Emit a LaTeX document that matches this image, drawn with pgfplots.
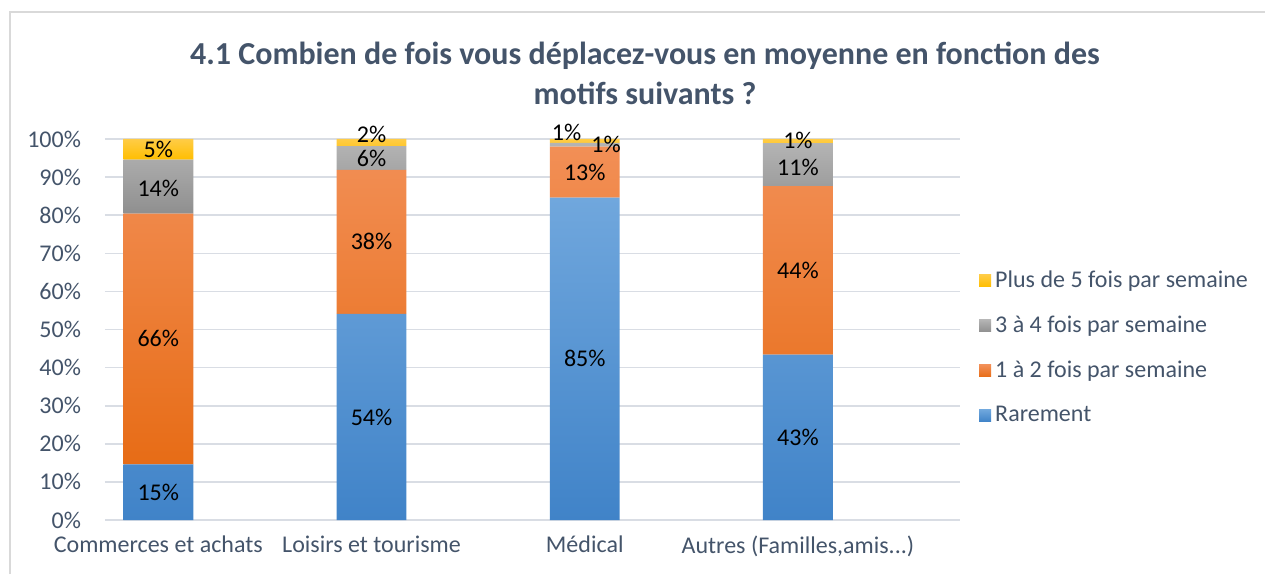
\documentclass[border=0pt]{standalone}
\usepackage{fontspec}
\setmainfont{Carlito}
\usepackage{pgfplots}
\pgfplotsset{compat=1.18}
\definecolor{txt}{RGB}{68,84,106}
\definecolor{gridc}{RGB}{217,221,228}
\definecolor{framec}{RGB}{217,217,217}
\definecolor{blueT}{RGB}{112,167,221}
\definecolor{blueB}{RGB}{64,131,200}
\definecolor{oranT}{RGB}{242,143,86}
\definecolor{oranB}{RGB}{231,108,22}
\definecolor{grayT}{RGB}{180,180,180}
\definecolor{grayB}{RGB}{143,143,143}
\definecolor{yelT}{RGB}{255,204,70}
\definecolor{yelB}{RGB}{255,190,0}
\newcommand{\autres}{Autres (Familles,amis...)}

\pgfplotsset{
  common/.style={
    scale only axis, width=427.5pt, height=190.5pt,
    at={(52.5pt,27pt)}, anchor=south west,
    xmin=-0.25, xmax=3.76, ymin=0, ymax=100,
  }
}

\begin{document}
\begin{tikzpicture}[x=0.5pt,y=0.5pt]
\useasboundingbox (0,0) rectangle (1265,574);
\draw[framec, line width=1pt] (10,0) -- (10,562) -- (1265,562);
\node[font=\fontsize{16}{19}\selectfont\bfseries, text=txt, anchor=base] at (645,509) {4.1 Combien de fois vous déplacez-vous en moyenne en fonction des};
\node[font=\fontsize{16}{19}\selectfont\bfseries, text=txt, anchor=base] at (645,469) {motifs suivants ?};

\begin{axis}[common,
  ybar stacked, bar width=0.328,
  axis line style={draw=none}, major tick length=0pt,
  ymajorgrids, grid style={gridc, line width=0.8pt},
  ytick={0,10,20,30,40,50,60,70,80,90,100},
  yticklabels={0\%,10\%,20\%,30\%,40\%,50\%,60\%,70\%,80\%,90\%,100\%},
  xtick={0,1,2,3},
  xticklabels={Commerces et achats,Loisirs et tourisme,Médical,\autres},
  ticklabel style={font=\fontsize{12}{14}\selectfont, text=txt},
  yticklabel style={xshift=-8.5pt},
  xticklabel style={yshift=-4.5pt},
  legend style={draw=none, fill=none, at={(1.015,0.452)}, anchor=west,
    font=\fontsize{12}{14}\selectfont, text=txt, row sep=8.8pt},
  legend cell align=left,
  reverse legend,
  legend image code/.code={\fill[#1] (0pt,-3pt) rectangle (6pt,3pt);},
]
\addplot[draw=none, top color=blueT, bottom color=blueB] coordinates {(0,14.6) (1,54.1) (2,84.6) (3,43.4)};
\addlegendentry{Rarement}
\addplot[draw=none, top color=oranT, bottom color=oranB] coordinates {(0,65.8) (1,37.8) (2,13.4) (3,44.2)};
\addlegendentry{1 à 2 fois par semaine}
\addplot[draw=none, top color=grayT, bottom color=grayB] coordinates {(0,14.2) (1,6.2) (2,1.0) (3,11.3)};
\addlegendentry{3 à 4 fois par semaine}
\addplot[draw=none, top color=yelT, bottom color=yelB] coordinates {(0,5.4) (1,1.9) (2,1.0) (3,1.1)};
\addlegendentry{Plus de 5 fois par semaine}
\end{axis}

\begin{axis}[common, axis lines=none, clip=false]
\addplot[only marks, mark=none, nodes near coords, point meta=explicit symbolic,
  every node near coord/.append style={anchor=center, font=\fontsize{12}{14}\selectfont, text=black, inner sep=0pt}]
  coordinates {
  (0,7.3)[15\%] (0,47.7)[66\%] (0,87.1)[14\%] (0,97.3)[5\%]
  (1,27.0)[54\%] (1,73.0)[38\%] (1,95.0)[6\%] (1,101.2)[2\%]
  (2,42.3)[85\%] (2,91.3)[13\%] (2.1,98.6)[1\%] (1.915,101.6)[1\%]
  (3,21.7)[43\%] (3,65.5)[44\%] (3,92.5)[11\%] (3,99.5)[1\%]
  };
\end{axis}
\end{tikzpicture}
\end{document}
